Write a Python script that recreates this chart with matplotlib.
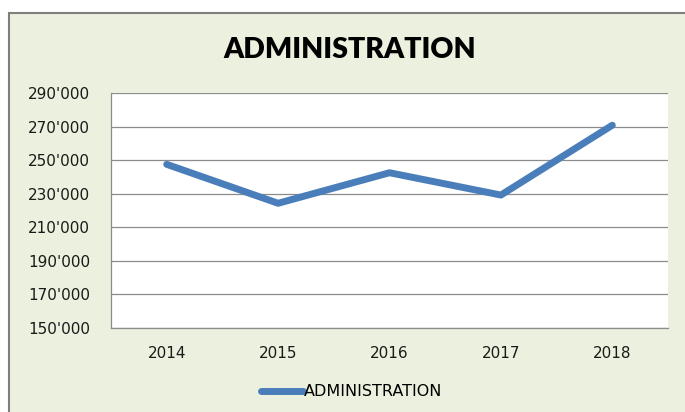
import matplotlib.pyplot as plt
from matplotlib.patches import Rectangle
from matplotlib.ticker import FuncFormatter

years = ['2014', '2015', '2016', '2017', '2018']
admin = [247500, 224300, 242500, 229200, 270800]

W, H = 685, 412
fig = plt.figure(figsize=(W / 100, H / 100), dpi=100)
fig.patch.set_facecolor('white')

# chart area frame
fig.patches.append(Rectangle((9 / W, -0.01), 1 - 9 / W + 0.01, 1 - 13 / H + 0.01,
                             transform=fig.transFigure, facecolor='#EBF1DE',
                             edgecolor='#7F7F7F', linewidth=1.5, zorder=0))

ax = fig.add_axes([111 / W, 1 - 328 / H, (668 - 111) / W, (328 - 93) / H])
ax.set_zorder(2)
ax.set_facecolor('white')

x = range(len(years))
line, = ax.plot(x, admin, color='#4A7EBB', linewidth=5, solid_capstyle='round',
                solid_joinstyle='round', label='ADMINISTRATION', zorder=3)

ax.set_xlim(-0.5, len(years) - 0.5)
ax.set_ylim(150000, 290000)
ax.set_yticks(range(150000, 290001, 20000))
ax.yaxis.set_major_formatter(FuncFormatter(lambda v, p: f"{int(v):,}".replace(',', "'")))
ax.set_xticks(list(x))
ax.set_xticklabels(years)
ax.grid(axis='y', color='#8C8C8C', linewidth=0.9)
ax.set_axisbelow(True)
ax.tick_params(length=0, labelsize=11, colors='#1a1a1a')
ax.tick_params(axis='y', pad=15)
ax.tick_params(axis='x', pad=13)
for s in ['top', 'right']:
    ax.spines[s].set_visible(False)
for s in ['left', 'bottom']:
    ax.spines[s].set_color('#8C8C8C')
    ax.spines[s].set_linewidth(0.9)

fig.text(350 / W, 1 - 50 / H, 'ADMINISTRATION', ha='center', va='center',
         fontsize=20.5, fontweight='heavy', family='Lato')

leg = fig.legend(handles=[line], loc='center', bbox_to_anchor=(352 / W, 1 - 392 / H),
                 frameon=False, fontsize=11.5, handlelength=2.6, handletextpad=0.1)
leg.set_zorder(3)

fig.savefig('out.png', dpi=100)
